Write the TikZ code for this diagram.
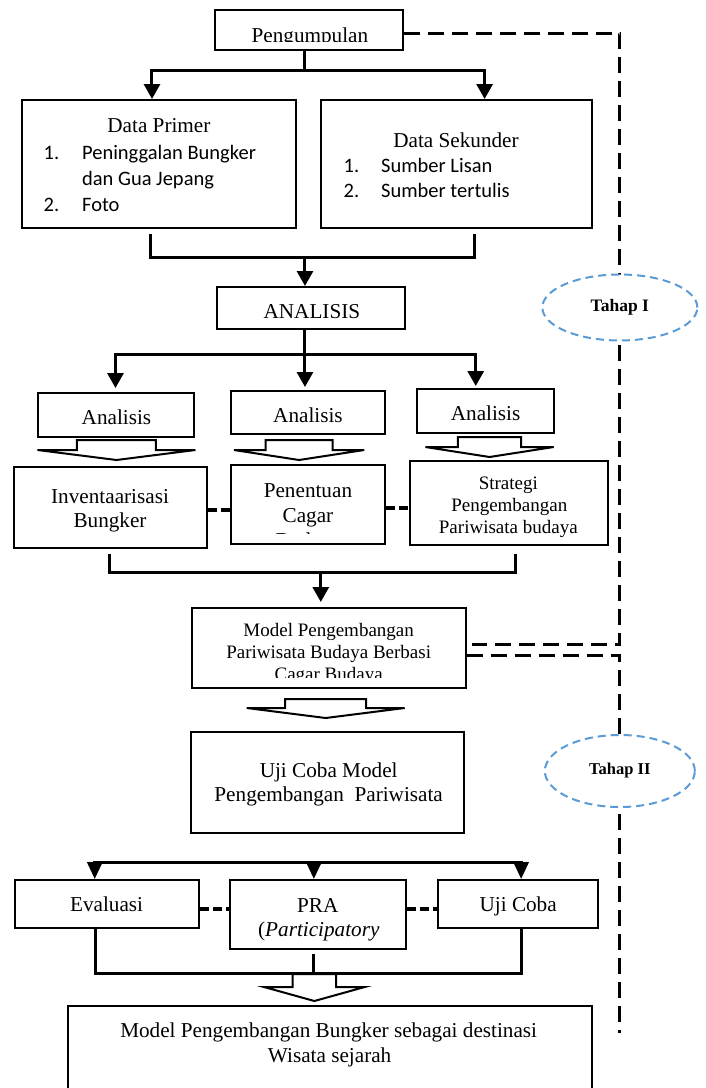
\documentclass[tikz,border=0pt]{standalone}
\usepackage{fontspec}
\setmainfont{Liberation Serif}
\newfontfamily\calfont{Carlito}
\usetikzlibrary{arrows.meta,calc,shapes.geometric}
\definecolor{tblue}{HTML}{5B9BD5}
\newcommand\hollowarrow[6]{\draw[hol] (#1) ++(-#2,0) -- ++(0,#4) -- ++({#2-#3},0) -- ++(#3,#5) -- ++(#3,-#5) -- ++({#2-#3},0) -- ++(0,-#4) -- cycle;}
\begin{document}
\begin{tikzpicture}[x=0.987pt,y=-1pt,
  bx/.style 2 args={draw,line width=2pt,minimum width={0.987*#1},minimum height=#2,inner sep=0pt},
  fa/.style={font=\fontsize{21.2}{25}\selectfont},
  fb/.style={font=\fontsize{19}{22}\selectfont},
  tx/.style={anchor=base,inner sep=0pt,fa},
  tb/.style={anchor=base,inner sep=0pt,fb},
  lst/.style={anchor=base west,inner sep=0pt,font=\calfont\fontsize{20.5}{25}\selectfont},
  ln/.style={line width=3pt},
  arr/.style={ln,-{Triangle[width=16pt,length=15pt]}},
  arrb/.style={ln,-{Triangle[width=15pt,length=17pt]}},
  dsh/.style={line width=3pt,dash pattern=on 16pt off 8pt},
  sdsh/.style={line width=3.5pt,dash pattern=on 9pt off 4pt},
  ell/.style={ellipse,draw=tblue,line width=2pt,dash pattern=on 8pt off 5pt,fill=white,inner sep=0pt},
  hol/.style={draw,line width=2pt,fill=white,line join=miter}]
\useasboundingbox (0,0) rectangle (714.29,1088);
\clip (0,0) rectangle (714.29,1088);

% ---------- dashed stage lines ----------
\node[bx={190}{40}] (peng) at (313,30) {};
\node[bx={277}{80}] (mod) at (333.5,648) {};
\coordinate (d1) at (628,33);
\coordinate (d2) at (628,644);
\coordinate (d3) at (478,644);
\coordinate (d5) at (628,655);
\coordinate (d6) at (628,1033);
\draw[dsh] (peng.east |- d1) -- (d1) -- (d2) -- (d3);
\draw[dsh] (mod.east |- d5) -- (d5) -- (d6);
\node[ell,minimum width=155,minimum height=66,font=\bfseries\fontsize{17.5}{20}\selectfont] (t1) at (628,307.5) {Tahap I};
\node[ell,minimum width=150,minimum height=72,font=\bfseries\fontsize{16.5}{19}\selectfont] (t2) at (628,771) {Tahap II};

% ---------- Pengumpulan ----------
\begin{scope}
\clip (220,12) rectangle (406,41.5);
\node[tx] (pengt) at (314,42.5) {Pengumpulan};
\end{scope}

% ---------- Data boxes ----------
\node[bx={278}{128}] (dp) at (161,164) {};
\node[tx] (dpt) at (161,132) {Data Primer};
\node[lst] (dp1n) at (44,159) {1.};
\node[lst] (dp1) at (83,159) {Peninggalan Bungker};
\node[lst] (dp1b) at (83,185) {dan Gua Jepang};
\node[lst] (dp2n) at (44,211) {2.};
\node[lst] (dp2) at (83,211) {Foto};

\node[bx={275}{128}] (ds) at (462.5,164) {};
\node[tx] (dst) at (462,147) {Data Sekunder};
\node[lst] (ds1n) at (348,172) {1.};
\node[lst] (ds1) at (386,172) {Sumber Lisan};
\node[lst] (ds2n) at (348,197) {2.};
\node[lst] (ds2) at (386,197) {Sumber tertulis};

\coordinate (j0) at (309,70);
\coordinate (jl) at (154,70);
\coordinate (jr) at (491,70);
\draw[ln] (peng.south -| j0) -- (j0);
\draw[arr] (j0) -| (jl |- dp.north);
\draw[arr] (j0) -| (jr |- ds.north);

% ---------- ANALISIS ----------
\node[bx={190}{42}] (ana) at (315,308) {};
\node[tx] (anat) at (316,318) {ANALISIS};
\coordinate (k0) at (309,257);
\coordinate (kl) at (152,257);
\coordinate (kr) at (481,257);
\draw[ln,shorten <=5pt] (dp.south -| kl) |- (k0);
\draw[ln,shorten <=5pt] (ds.south -| kr) |- (k0);
\draw[arr] (k0) -- (k0 |- ana.north);

% ---------- three Analisis ----------
\node[bx={159}{44}] (a1) at (117.5,415) {};
\node[bx={156}{43}] (a2) at (312,412.5) {};
\node[bx={139}{44}] (a3) at (491.5,411) {};
\node[tx] (a1t) at (118,424) {Analisis};
\node[tx] (a2t) at (312,422) {Analisis};
\node[tx] (a3t) at (492,420) {Analisis};
\coordinate (m0) at (309,354);
\coordinate (ml) at (117,354);
\coordinate (mr) at (482,354);
\draw[ln] (ana.south -| m0) -- (m0);
\draw[arr,shorten >=4pt] (m0) -| (ml |- a1.north);
\draw[arr,shorten >=3pt] (m0) -- (m0 |- a2.north);
\draw[arr,shorten >=2pt] (m0) -| (mr |- a3.north);

% hollow arrows
\coordinate (h1) at (118,440);
\coordinate (h2) at (303,440);
\coordinate (h3) at (496,437);
\hollowarrow{h1}{40}{80}{10}{10}{}
\hollowarrow{h2}{34}{66}{10}{10}{}
\hollowarrow{h3}{32}{65}{10}{10}{}

% ---------- result row ----------
\node[bx={196}{81}] (inv) at (112,507.5) {};
\node[tx] (invt1) at (111.5,503) {Inventaarisasi};
\node[tx] (invt2) at (111.5,527) {Bungker};

\node[bx={156}{79}] (pen) at (312,504.5) {};
\begin{scope}
\clip (236,467) rectangle (388,533.5);
\node[tx] (pent1) at (312,497) {Penentuan};
\node[tx] (pent2) at (312,522) {Cagar};
\node[tx] (pent3) at (312,547) {Budaya};
\end{scope}

\node[bx={201}{84}] (str) at (515.5,503) {};
\node[tb] (strt1) at (515,489) {Strategi};
\node[tb] (strt2) at (516,511) {Pengembangan};
\node[tb] (strt3) at (515,533) {Pariwisata budaya};

\coordinate (r1) at (0,510);
\coordinate (r2) at (0,508);
\draw[sdsh] (inv.east |- r1) -- (pen.west |- r1);
\draw[sdsh] (pen.east |- r2) -- (str.west |- r2);

\coordinate (n0) at (325,572);
\coordinate (nl) at (111,572);
\coordinate (nr) at (522,572);
\draw[ln,shorten <=5pt] (inv.south -| nl) |- (n0);
\draw[ln,shorten <=8pt] (str.south -| nr) |- (n0);
\draw[arr,shorten >=5pt] (n0) -- (n0 |- mod.north);

% ---------- model box ----------
\begin{scope}
\clip (197,610) rectangle (470,677);
\node[tb] (modt1) at (333,636) {Model Pengembangan};
\node[tb] (modt2) at (333,658) {Pariwisata Budaya Berbasi};
\node[tb] (modt3) at (333,680) {Cagar Budaya};
\end{scope}

\coordinate (h4) at (330,699);
\hollowarrow{h4}{41}{80}{9}{10}{}

% ---------- Uji coba model ----------
\node[bx={276}{101}] (uji) at (332,782.5) {};
\node[tx] (ujit1) at (333,777) {Uji Coba Model};
\node[tx] (ujit2) at (333,801) {Pengembangan\ \ Pariwisata};

% ---------- bottom row ----------
\node[bx={187}{48}] (eva) at (108.5,904) {};
\node[bx={178}{69}] (pra) at (322,914.5) {};
\node[bx={162}{48}] (ujc) at (525,904) {};
\node[tx] (evat) at (108,911) {Evaluasi};
\node[tx] (prat1) at (322,912) {PRA};
\node[tx] (prat2) at (323,936) {(\textit{Participatory}};
\node[tx] (ujct) at (525,911) {Uji Coba};

\coordinate (b0) at (318,862);
\coordinate (bl) at (96,862);
\coordinate (br) at (528,862);
\draw[arrb] (b0) -| (bl |- eva.north);
\draw[arrb] (b0) -| (br |- ujc.north);
\draw[arrb] (b0) -- (b0 |- pra.north);

\coordinate (q1) at (0,909);
\draw[sdsh] (eva.east |- q1) -- (pra.west |- q1);
\draw[sdsh] (pra.east |- q1) -- (ujc.west |- q1);

\coordinate (f0) at (318,973);
\coordinate (fl) at (97,973);
\coordinate (fr) at (528,973);
\draw[ln] (eva.south -| fl) |- (f0);
\draw[ln] (ujc.south -| fr) |- (f0);
\draw[ln,shorten <=4pt] (pra.south -| f0) -- (f0);

\coordinate (h5) at (318.5,974);
\hollowarrow{h5}{22}{51}{13}{14}{}

% ---------- final box ----------
\node[bx={531}{114},line width=1.6pt] (fin) at (334.5,1063) {};
\node[tx] (fint1) at (333,1037) {Model Pengembangan Bungker sebagai destinasi};
\node[tx] (fint2) at (334,1062) {Wisata sejarah};
\end{tikzpicture}
\end{document}
